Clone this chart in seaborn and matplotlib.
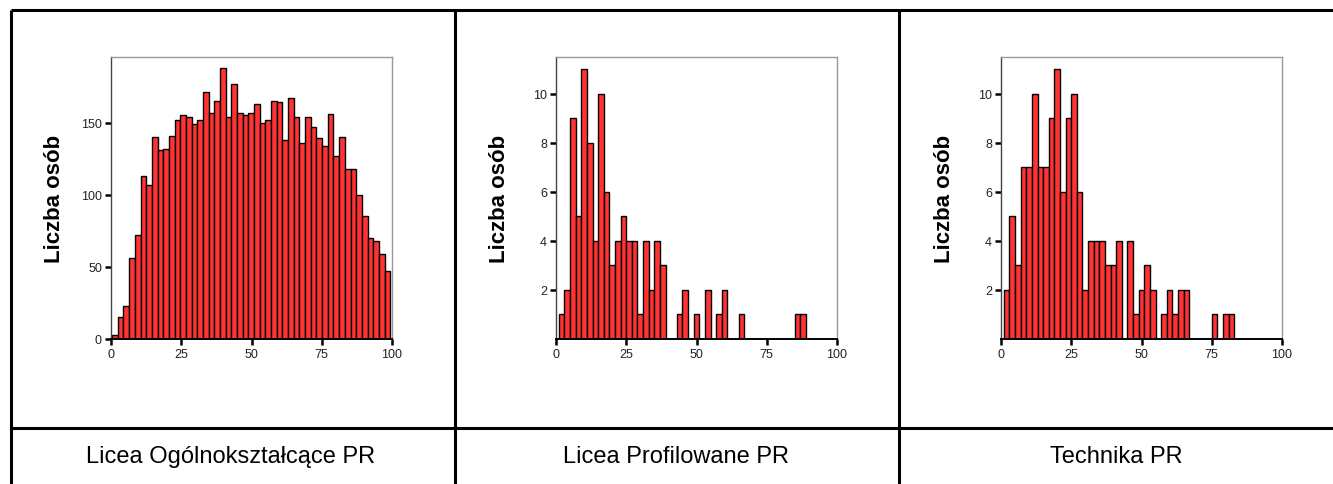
import numpy as np
import pandas as pd
import matplotlib
matplotlib.use("Agg")
import matplotlib.pyplot as plt
from matplotlib.lines import Line2D
import seaborn as sns

# ---------------- data ----------------
panel_titles = ["Licea Ogólnokształcące PR", "Licea Profilowane PR", "Technika PR"]
y_label = "Liczba osób"

lo_counts = [3, 15, 23, 56, 72, 113, 107, 140, 131, 132, 141, 152, 155, 154, 149,
             152, 171, 157, 165, 188, 154, 177, 157, 155, 157, 163, 150, 152, 165,
             164, 138, 167, 154, 136, 154, 147, 139, 134, 156, 127, 140, 118, 118,
             100, 85, 70, 68, 59, 47]
lo_bin_start, lo_bin_width = 0.4, 2.02

lp_counts = [1, 2, 9, 5, 11, 8, 4, 10, 6, 3, 4, 5, 4, 4, 1, 4, 2, 4, 3, 0, 0, 1,
             2, 0, 1, 0, 2, 0, 1, 2, 0, 0, 1, 0, 0, 0, 0, 0, 0, 0, 0, 0, 1, 1]
lp_bin_start, lp_bin_width = 1.0, 2.0

t_counts = [2, 5, 3, 7, 7, 10, 7, 7, 9, 11, 6, 9, 10, 6, 2, 4, 4, 4, 3, 3, 4, 0,
            4, 1, 2, 3, 2, 0, 1, 2, 1, 2, 2, 0, 0, 0, 0, 1, 0, 1, 1]
t_bin_start, t_bin_width = 1.0, 2.0

x_ticks = [0, 25, 50, 75, 100]
lo_y_ticks = [0, 50, 100, 150]
small_y_ticks = [2, 4, 6, 8, 10]

# ---------------- style ----------------
sns.set_style("white")
plt.rcParams["font.family"] = ["Liberation Sans", "DejaVu Sans"]

W, H = 1333, 485
fig = plt.figure(figsize=(W / 100, H / 100), dpi=100)

def fx(px):
    return px / W

def fy(py):
    return 1 - py / H

panels = [
    (lo_counts, lo_bin_start, lo_bin_width, lo_y_ticks, 195.5, 111),
    (lp_counts, lp_bin_start, lp_bin_width, small_y_ticks, 11.5, 556),
    (t_counts, t_bin_start, t_bin_width, small_y_ticks, 11.5, 1001),
]

ax_w, ax_top, ax_bot = 281, 58, 340
bar_color = "#FF3333"

for counts, start, width, yt, ymax, left in panels:
    ax = fig.add_axes([fx(left), fy(ax_bot), fx(ax_w), (ax_bot - ax_top) / H])
    n = len(counts)
    edges = [start + width * i for i in range(n + 1)]
    df = pd.DataFrame({
        "score": [start + width * (i + 0.5) for i in range(n)],
        "count": [float(c) for c in counts],
    })
    sns.histplot(data=df, x="score", weights="count", bins=edges, ax=ax,
                 color=bar_color, edgecolor="black", linewidth=1.0, alpha=1.0)
    ax.set_xlim(0, 100)
    ax.set_ylim(0, ymax)
    ax.set_xticks(x_ticks)
    ax.set_yticks(yt)
    ax.set_xticklabels([str(t) for t in x_ticks])
    ax.set_yticklabels([str(t) for t in yt])
    ax.tick_params(axis="both", which="both", direction="out", length=4.5, width=1.8,
                   color="black", labelsize=9, pad=2, labelcolor="#222222")
    ax.tick_params(axis="x", bottom=True)
    ax.tick_params(axis="y", left=True)
    ax.set_xlabel("")
    ax.set_ylabel(y_label, fontsize=16, fontweight="bold", color="black")
    ax.yaxis.set_label_coords(-46 / ax_w, 0.5)
    ax.spines["bottom"].set_color("black")
    ax.spines["bottom"].set_linewidth(1.4)
    ax.spines["left"].set_color("#444444")
    ax.spines["left"].set_linewidth(1.0)
    for s in ("top", "right"):
        ax.spines[s].set_visible(True)
        ax.spines[s].set_color("#999999")
        ax.spines[s].set_linewidth(1.0)
    ax.grid(False)
    ax.set_facecolor("white")

# ---------------- table frame ----------------
lw = 2.2
frame = [
    ((fx(10.5), fx(1333)), (fy(11), fy(11))),
    ((fx(10.5), fx(1333)), (fy(429), fy(429))),
    ((fx(10.5), fx(10.5)), (fy(11), fy(485))),
    ((fx(454.5), fx(454.5)), (fy(11), fy(485))),
    ((fx(899), fx(899)), (fy(11), fy(485))),
]
for xs, ys in frame:
    fig.add_artist(Line2D(xs, ys, transform=fig.transFigure, color="black",
                          linewidth=lw, solid_capstyle="butt"))

centers_px = [231, 676, 1116]
for cx, title in zip(centers_px, panel_titles):
    fig.text(fx(cx), fy(457), title, ha="center", va="center", fontsize=17,
             color="black")

fig.savefig("out.png", dpi=100, facecolor="white")
